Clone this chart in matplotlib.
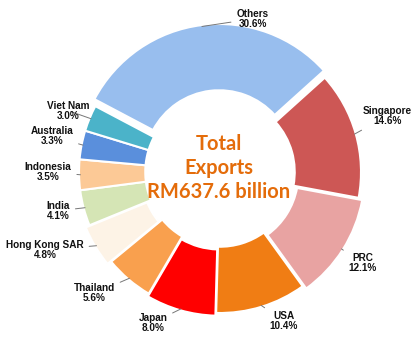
import numpy as np
import matplotlib
matplotlib.use("Agg")
import matplotlib.pyplot as plt

countries = ["Singapore", "PRC", "USA", "Japan", "Thailand", "Hong Kong SAR",
             "India", "Indonesia", "Australia", "Viet Nam", "Others"]
shares = [14.6, 12.1, 10.4, 8.0, 5.6, 4.8, 4.1, 3.5, 3.3, 3.0, 30.6]
colors = ["#CD5755", "#E8A3A2", "#F07D14", "#FF0000", "#F9A04E", "#FDF3E6",
          "#D5E5B5", "#FCC996", "#5A8FDC", "#4BB3C9", "#98BEEE"]
center_text = "Total\nExports\nRM637.6 billion"

# label layout (angle in degrees, radius in units of outer radius)
label_angle = [18.5, -32.6, -66.8, -114, -136, -156, -166.5, 180, 168, 158, 78]
label_rad = [1.25, 1.20, 1.15, 1.17, 1.24, 1.36, 1.18, 1.22, 1.22, 1.16, 1.11]
explode = [0.0, 0.03, 0.0, 0.02, 0.0, 0.03, 0.0, 0.0, 0.0, 0.0, 0.05]

W, H, dpi = 420, 350, 100
fig = plt.figure(figsize=(W / dpi, H / dpi), dpi=dpi)
ax = fig.add_axes([0, 0, 1, 1])
R = 141.0
cx, cy = 220.0, 350 - 172.0

wedges, _ = ax.pie(shares, colors=colors, startangle=42, counterclock=False,
                   explode=explode, radius=1.0,
                   wedgeprops=dict(width=0.47, edgecolor="white", linewidth=1.5))
ax.set_xlim(-cx / R, (W - cx) / R)
ax.set_ylim(-cy / R, (H - cy) / R)
ax.set_aspect("equal")
ax.axis("off")

for w, name, s, a, r in zip(wedges, countries, shares, label_angle, label_rad):
    mid = np.deg2rad((w.theta1 + w.theta2) / 2)
    ox, oy = w.center
    px, py = ox + 0.99 * np.cos(mid), oy + 0.99 * np.sin(mid)
    tx, ty = r * np.cos(np.deg2rad(a)), r * np.sin(np.deg2rad(a))
    ax.annotate(f"{name}\n{s:.1f}%", xy=(px, py), xytext=(tx, ty),
                ha="center", va="center", fontsize=7.2, fontweight="bold",
                family="Liberation Sans", color="#111111", linespacing=1.0,
                arrowprops=dict(arrowstyle="-", color="#777777", lw=0.7,
                                shrinkA=2, shrinkB=0))

ax.text(-1.0 / R, 4.0 / R, center_text, ha="center", va="center",
        fontsize=14.5, fontweight="bold", family="Lato", color="#E46C0A",
        linespacing=1.25)

fig.savefig("out.png", dpi=dpi)
